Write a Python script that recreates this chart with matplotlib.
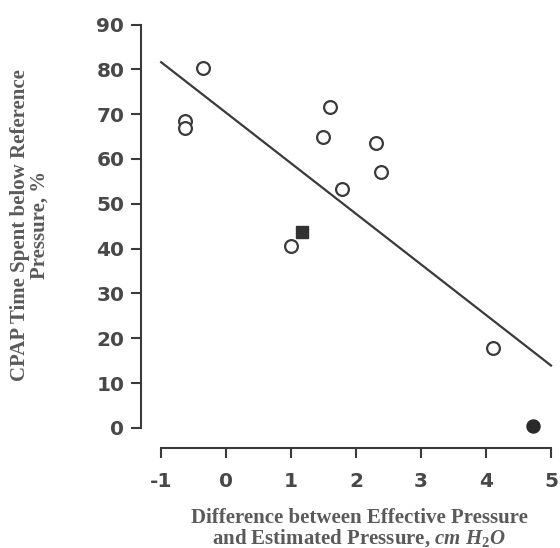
import matplotlib
matplotlib.use("Agg")
import matplotlib.pyplot as plt

plt.rcParams['font.family'] = ['Liberation Serif', 'DejaVu Serif']
plt.rcParams['mathtext.fontset'] = 'custom'
plt.rcParams['mathtext.it'] = 'Liberation Serif:italic:bold'
plt.rcParams['mathtext.rm'] = 'Liberation Serif:bold'
plt.rcParams['axes.unicode_minus'] = False

# open circles
open_x = [-0.35, -0.63, -0.63, 1.60, 1.49, 2.30, 2.39, 1.79, 1.00, 4.10]
open_y = [80.3, 68.5, 67.0, 71.5, 64.8, 63.5, 57.2, 53.2, 40.6, 17.9]
# filled square
square_x = [1.17]
square_y = [43.7]
# filled circle
filled_x = [4.72]
filled_y = [0.4]
# regression line endpoints
line_x = [-1.0, 5.0]
line_y = [81.6, 13.9]

xticks = [-1, 0, 1, 2, 3, 4, 5]
yticks = [0, 10, 20, 30, 40, 50, 60, 70, 80, 90]

dark = '#3a3a3a'
fig = plt.figure(figsize=(5.6, 5.48), dpi=100)
ax = fig.add_axes([0.2518, 0.1825, 0.738, 0.789])

ax.plot(line_x, line_y, color=dark, lw=1.6, zorder=2)
ax.plot(open_x, open_y, 'o', ms=9.2, mfc='white', mec=dark, mew=1.6, ls='none', zorder=3, clip_on=False)
ax.plot(square_x, square_y, 's', ms=8.6, mfc='#333333', mec='#333333', ls='none', zorder=3)
ax.plot(filled_x, filled_y, 'o', ms=9.4, mfc='#2a2a2a', mec='#2a2a2a', ls='none', zorder=3, clip_on=False)

ax.set_xlim(-1.31, 5.05)
ax.set_ylim(-4.5, 92)
ax.spines['top'].set_visible(False)
ax.spines['right'].set_visible(False)
ax.spines['left'].set_bounds(0, 90)
ax.spines['bottom'].set_bounds(-1, 5)
for s in ('left', 'bottom'):
    ax.spines[s].set_linewidth(1.5)
    ax.spines[s].set_color(dark)

ax.set_xticks(xticks)
ax.set_yticks(yticks)
ax.tick_params(direction='out', length=7, width=1.5, color=dark,
               labelsize=14.5, labelcolor='#484848')
ax.tick_params(axis='y', pad=5)
ax.tick_params(axis='x', pad=10)
for lab in ax.get_xticklabels() + ax.get_yticklabels():
    lab.set_fontweight('bold')
    lab.set_family('DejaVu Sans')

fig.text(0.053, 0.589, 'CPAP Time Spent below Reference\nPressure, %', rotation=90,
         ha='center', va='center', fontsize=15, fontweight='bold', color='#5a5a5a',
         linespacing=0.95, multialignment='center')
fig.text(0.641, 0.035, 'Difference between Effective Pressure\nand Estimated Pressure, $\\mathit{cm\\ H_2O}$',
         ha='center', va='center', fontsize=15, fontweight='bold', color='#5a5a5a',
         linespacing=0.95, multialignment='center')

fig.savefig('out.png', dpi=100, facecolor='white')
